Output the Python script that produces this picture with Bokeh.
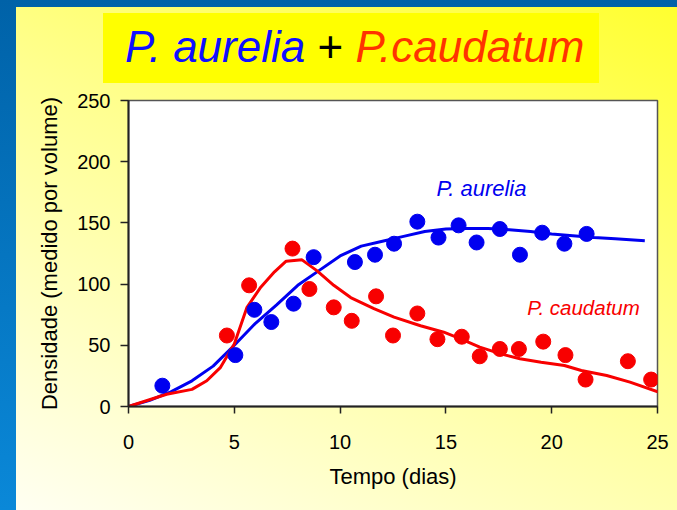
from bokeh.plotting import figure
from bokeh.models import Label, FixedTicker, Range1d, Div
from bokeh.layouts import column
from bokeh.embed import file_html
from bokeh.resources import INLINE

# ---- data ----
days_aurelia = [1.6, 5.05, 5.95, 6.75, 7.8, 8.75, 10.7, 11.65, 12.55, 13.65, 14.65,
                15.6, 16.45, 17.55, 18.5, 19.55, 20.6, 21.65]
dens_aurelia = [17, 42, 79, 69, 84, 122, 118, 124, 133, 151, 138,
                148, 134, 145, 124, 142, 133, 141]

days_caudatum = [4.65, 5.7, 7.75, 8.55, 9.7, 10.55, 11.7, 12.5, 13.65, 14.6, 15.75,
                 16.6, 17.55, 18.45, 19.6, 20.65, 21.6, 23.6, 24.7]
dens_caudatum = [58, 99, 129, 96, 81, 70, 90, 58, 76, 55, 57,
                 41, 47, 47, 53, 42, 22, 37, 22]

fit_days_aurelia = [0, 1, 2, 3, 4, 5, 6, 7, 8, 9, 10, 11, 12, 13, 14, 15, 16, 17,
                    18, 19, 20, 21, 22, 23, 24.4]
fit_aurelia = [0, 5, 12, 21, 33, 50, 68, 83, 99, 111, 123, 131, 135, 139, 143, 145,
               145.5, 145.5, 144.5, 143, 141, 139.5, 138, 137, 135.5]

fit_days_caudatum = [0, 1.8, 3.0, 3.7, 4.35, 5.0, 5.6, 6.25, 6.9, 7.45, 8.2, 8.9,
                     9.7, 10.5, 11.6, 12.55, 13.8, 14.9, 15.7, 16.6, 17.6, 18.5,
                     19.5, 20.6, 21.4, 22.6, 23.7, 25.06]
fit_caudatum = [0, 10, 14, 21, 32, 51, 81, 97.5, 110, 118.7, 119.8, 111,
                99, 89, 80, 73, 66, 60.7, 55.3, 48.5, 43, 39,
                36.2, 33.5, 29.4, 25.3, 19.9, 11.7]

x_ticks = [0, 5, 10, 15, 20, 25]
y_ticks = [0, 50, 100, 150, 200, 250]

title_parts = ["P. aurelia", "+", "P.caudatum"]
x_label = "Tempo (dias)"
y_label = "Densidade (medido por volume)"

FONT = "Liberation Sans"
BLUE = "#0000F0"
RED = "#F80000"

p = figure(width=677, height=510, x_range=Range1d(0, 25), y_range=Range1d(0, 250),
           output_backend="svg", toolbar_location=None,
           min_border_left=128, min_border_right=20,
           min_border_top=100, min_border_bottom=104)

p.border_fill_color = None
p.background_fill_color = "white"
p.outline_line_color = "#555555"
p.outline_line_width = 1.5
p.grid.visible = False

p.styles = {
    "position": "fixed",
    "left": "0px",
    "top": "0px",
    "background": (
        "linear-gradient(205deg, #FFFF30 0%, #FFFF90 45%, #FFFFF2 100%) 16px 7px / 661px 503px no-repeat, "
        "linear-gradient(180deg, #0062A8, #0A88D8)"
    ),
}

# axes
p.xaxis.ticker = FixedTicker(ticks=x_ticks)
p.yaxis.ticker = FixedTicker(ticks=y_ticks)
for ax in (p.xaxis[0], p.yaxis[0]):
    ax.minor_tick_line_color = None
    ax.major_tick_in = 0
    ax.axis_line_color = "#222222"
    ax.axis_line_width = 2
    ax.major_tick_line_color = "#222222"
    ax.major_tick_line_width = 1.5
    ax.major_label_text_font = FONT
    ax.major_label_text_font_size = "20px"
    ax.major_label_text_color = "black"
    ax.axis_label_text_font = FONT
    ax.axis_label_text_font_size = "22px"
    ax.axis_label_text_font_style = "normal"
    ax.axis_label_text_color = "black"

p.xaxis.major_tick_out = 7
p.yaxis.major_tick_out = 8
p.xaxis.major_label_standoff = 21
p.yaxis.major_label_standoff = 10
p.xaxis.axis_label = x_label
p.yaxis.axis_label = y_label
p.xaxis.axis_label_standoff = 12
p.yaxis.axis_label_standoff = 12

# fitted curves
p.line(fit_days_aurelia, fit_aurelia, line_color=BLUE, line_width=3)
p.line(fit_days_caudatum, fit_caudatum, line_color=RED, line_width=3)

# observations
p.scatter(days_aurelia, dens_aurelia, size=15, fill_color=BLUE, line_color=BLUE)
p.scatter(days_caudatum, dens_caudatum, size=15, fill_color=RED, line_color=RED)

# series labels
p.add_layout(Label(x=14.55, y=178.5, text="P. aurelia", text_font=FONT,
                   text_font_size="22px", text_font_style="italic",
                   text_color=BLUE, text_baseline="alphabetic"))
p.add_layout(Label(x=18.85, y=80.5, text="P. caudatum", text_font=FONT,
                   text_font_size="20.5px", text_font_style="italic",
                   text_color=RED, text_baseline="alphabetic"))

# title box with three coloured parts
title_html = (
    '<div style="font-family:\'Liberation Sans\',Arial,sans-serif;font-size:44px;'
    'line-height:70px;white-space:nowrap;padding-left:22px;position:relative;top:-1px;">'
    f'<span style="color:#1010FF;font-style:italic">{title_parts[0]}</span> '
    f'<span style="color:#000000">{title_parts[1]}</span> '
    f'<span style="color:#FF3300;font-style:italic">{title_parts[2]}</span></div>'
)
title = Div(text=title_html, width=496, height=70, margin=0,
            styles={"position": "fixed", "left": "103px", "top": "13px",
                    "background": "#FFFF00", "z-index": "5",
                    "overflow": "hidden"})

layout = column(p, title)
open("out.html", "w").write(file_html(layout, INLINE))
